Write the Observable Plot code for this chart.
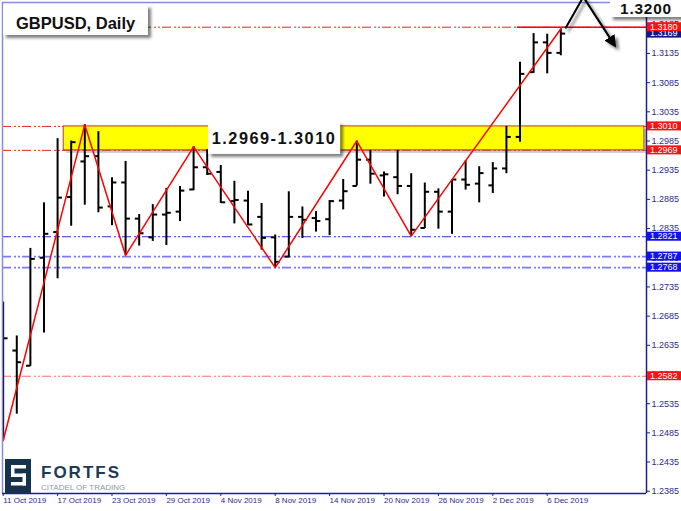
<!DOCTYPE html>
<html><head><meta charset="utf-8">
<script src="https://cdn.jsdelivr.net/npm/d3@7"></script>
<script src="https://cdn.jsdelivr.net/npm/@observablehq/plot@0.6"></script>
<style>
html,body{margin:0;padding:0;background:#fff;}
#chart{width:681px;height:511px;overflow:hidden;}
</style></head><body><div id="chart"></div>
<script>
// ---- data (GBPUSD daily bars, 11 Oct 2019 - 9 Dec 2019) ----
const barIndex = [0,1,2,3,4,5,6,7,8,9,10,11,12,13,14,15,16,17,18,19,20,21,22,23,24,25,26,27,28,29,30,31,32,33,34,35,36,37,38,39,40,41];
const openP  = [1.2490,1.2626,1.2600,1.2785,1.2829,1.2889,1.2950,1.2959,1.2873,1.2914,1.2852,1.2820,1.2859,1.2864,1.2902,1.2940,1.2932,1.2882,1.2883,1.2855,1.2820,1.2787,1.2855,1.2853,1.2851,1.2883,1.2908,1.2953,1.2926,1.2923,1.2908,1.2836,1.2898,1.2864,1.2919,1.2912,1.2909,1.2938,1.2992,1.3103,1.3154,1.3136];
const highP  = [1.2709,1.2651,1.2801,1.2879,1.2989,1.2985,1.3013,1.3001,1.2922,1.2950,1.2859,1.2876,1.2904,1.2907,1.2975,1.2970,1.2943,1.2916,1.2899,1.2878,1.2824,1.2898,1.2872,1.2864,1.2883,1.2919,1.2985,1.2969,1.2932,1.2969,1.2929,1.2913,1.2903,1.2919,1.2951,1.2941,1.2948,1.3010,1.3120,1.3169,1.3168,1.3177];
const lowP   = [1.2472,1.2517,1.2599,1.2656,1.2749,1.2839,1.2875,1.2862,1.2840,1.2789,1.2805,1.2813,1.2806,1.2847,1.2900,1.2926,1.2878,1.2843,1.2840,1.2798,1.2768,1.2785,1.2818,1.2829,1.2823,1.2867,1.2908,1.2911,1.2889,1.2893,1.2822,1.2835,1.2834,1.2825,1.2901,1.2879,1.2895,1.2929,1.2983,1.3101,1.3100,1.3131];
const closeP = [1.2647,1.2606,1.2783,1.2826,1.2888,1.2983,1.2959,1.2871,1.2914,1.2852,1.2827,1.2859,1.2862,1.2900,1.2940,1.2929,1.2880,1.2884,1.2842,1.2819,1.2778,1.2855,1.2850,1.2848,1.2882,1.2899,1.2953,1.2929,1.2928,1.2908,1.2833,1.2898,1.2864,1.2919,1.2910,1.2930,1.2938,1.2992,1.3100,1.3154,1.3136,1.3169];

const xTickIndex  = [0,4,8,12,16,20,24,28,32,36,40];
const xTickLabels = ["11 Oct 2019","17 Oct 2019","23 Oct 2019","29 Oct 2019","4 Nov 2019","8 Nov 2019","14 Nov 2019","20 Nov 2019","26 Nov 2019","2 Dec 2019","6 Dec 2019"];
const yTicks = [1.2385,1.2435,1.2485,1.2535,1.2585,1.2635,1.2685,1.2735,1.2785,1.2835,1.2885,1.2935,1.2985,1.3035,1.3085,1.3135,1.3185];

const zigzagIndex = [0,6,9,14,20,26,30,41];
const zigzagValue = [1.2472,1.3013,1.2789,1.2975,1.2768,1.2985,1.2822,1.3177];

const redLevels  = [1.3180,1.3010,1.2969];
const lightRedLevels = [1.2582];
const blueLevel  = [1.2821];
const lightBlueLevels = [1.2787,1.2768];
const bidPrice = 1.3169;
const zoneLow = 1.2969, zoneHigh = 1.3010, zoneStart = 4.45, zoneEnd = 47.15;
const resistanceStart = 37.8;
const targetLevel = 1.3200;
const titleText = "GBPUSD, Daily";
const zoneText = "1.2969-1.3010";
const targetText = "1.3200";

// ---- build ----
const bars = barIndex.map((i,k)=>({i, o:openP[k], h:highP[k], l:lowP[k], c:closeP[k]}));
const zz = zigzagIndex.map((i,k)=>({i, v:zigzagValue[k]}));
const zone = [{x1:zoneStart, x2:zoneEnd, y1:zoneLow, y2:zoneHigh}];
const X0 = -0.05, X1 = 47.3, Y0 = 1.23811, Y1 = 1.32223;
const dd = "9,3,2,2,2,2";
const tickLab = new Map(xTickIndex.map((d,k)=>[d,xTickLabels[k]]));
const navy = "#1c1ca0";

const chart = Plot.plot({
  width: 681, height: 511,
  marginLeft: 2, marginRight: 35, marginTop: 2, marginBottom: 18,
  x: {domain:[X0,X1], axis:null},
  y: {domain:[Y0,Y1], axis:null},
  style: {fontFamily:"'Liberation Sans', Arial, sans-serif", background:"#fff", color:"#2b2b8a", overflow:"visible"},
  marks: [
    Plot.ruleY(redLevels, {stroke:"#ff1a1a", strokeWidth:1, strokeDasharray:dd}),
    Plot.ruleY(lightRedLevels, {stroke:"#ff6a6a", strokeWidth:1, strokeDasharray:dd}),
    Plot.ruleY(blueLevel, {stroke:"#2a2aff", strokeWidth:1, strokeDasharray:dd}),
    Plot.ruleY(lightBlueLevels, {stroke:"#7a7aff", strokeWidth:1.6, strokeDasharray:dd}),
    Plot.rect(zone, {x1:"x1", x2:"x2", y1:"y1", y2:"y2", fill:"#888", fillOpacity:0.45, dx:3, dy:3}),
    Plot.rect(zone, {x1:"x1", x2:"x2", y1:"y1", y2:"y2", fill:"#ffff00", stroke:"#c03a2b", strokeWidth:1}),
    Plot.ruleY([1.3180], {x1:resistanceStart, x2:X1, stroke:"#ff0000", strokeWidth:1.5}),
    Plot.ruleX(bars, {x:"i", y1:"l", y2:"h", stroke:"#000", strokeWidth:2}),
    Plot.link(bars, {x1:d=>d.i-0.32, x2:"i", y1:"o", y2:"o", stroke:"#000", strokeWidth:2, clip:true}),
    Plot.link(bars, {x1:"i", x2:d=>d.i+0.32, y1:"c", y2:"c", stroke:"#000", strokeWidth:2}),
    Plot.line(zz, {x:"i", y:"v", stroke:"#ff0000", strokeWidth:1.5}),
    Plot.ruleX([X0], {stroke:"#8a8ae0", strokeWidth:1.5}),
    Plot.ruleY([Y1], {stroke:"#8a8ae0", strokeWidth:1.5}),
    Plot.ruleX([X1], {stroke:navy, strokeWidth:1.5}),
    Plot.ruleY([Y0], {stroke:navy, strokeWidth:1.5}),
    Plot.axisY({anchor:"right", ticks:yTicks, tickFormat:d=>d.toFixed(4), tickSize:3, tickPadding:2, fontSize:9, stroke:navy, label:null}),
    Plot.axisX({anchor:"bottom", ticks:xTickIndex, tickFormat:d=>tickLab.get(d), tickSize:3, tickPadding:1, fontSize:8, textAnchor:"start", stroke:navy, label:null})
  ]
});
document.getElementById("chart").appendChild(chart);

const sx = chart.scale("x"), sy = chart.scale("y");
const X = v=>sx.apply(v), Y = v=>sy.apply(v);
const svg = d3.select(chart);
const defs = svg.append("defs");
const f = defs.append("filter").attr("id","shadow").attr("x","-20%").attr("y","-30%").attr("width","150%").attr("height","180%");
f.append("feDropShadow").attr("dx",3).attr("dy",3).attr("stdDeviation",1.6).attr("flood-color","#000").attr("flood-opacity",0.5);
defs.append("marker").attr("id","ah").attr("viewBox","0 0 10 10").attr("refX",8).attr("refY",5)
  .attr("markerWidth",6).attr("markerHeight",6).attr("orient","auto")
  .append("path").attr("d","M0,0 L10,5 L0,10 Z").attr("fill","#000");

const ov = svg.append("g").attr("text-anchor","start");
const font = "'Liberation Sans', Arial, sans-serif";

// price labels on the axis
function priceTag(v, bg){
  const g = ov.append("g");
  g.append("rect").attr("x", X(X1)+1).attr("y", Y(v)-4.5).attr("width", 34).attr("height", 9).attr("fill", bg);
  g.append("text").attr("x", X(X1)+4).attr("y", Y(v)+3.2).attr("fill","#fff").attr("text-anchor","start")
    .attr("font-family",font).attr("font-size",9).text(v.toFixed(4));
}
blueLevel.concat(lightBlueLevels).forEach(v=>priceTag(v,"#1010f0"));
priceTag(bidPrice,"#14148c");
redLevels.concat(lightRedLevels).forEach(v=>priceTag(v,"#ff1010"));

// zone callout
const zcx = X(19.95), zcy = Y((zoneLow+zoneHigh)/2);
ov.append("rect").attr("x", zcx-66).attr("y", zcy-16).attr("width",132).attr("height",32).attr("fill","#fff").attr("filter","url(#shadow)");
ov.append("text").attr("x", zcx).attr("y", zcy+6).attr("text-anchor","middle").attr("font-family",font)
  .attr("font-weight","bold").attr("font-size",16.3).attr("letter-spacing",1.5).attr("fill","#111").text(zoneText);

// title callout
ov.append("rect").attr("x",3).attr("y",5).attr("width",145).attr("height",30).attr("fill","#fff").attr("filter","url(#shadow)");
ov.append("text").attr("x",16).attr("y",29).attr("text-anchor","start").attr("font-family",font).attr("font-weight","bold").attr("font-size",16.5).attr("fill","#111").text(titleText);

// target arrow
ov.append("path").attr("d",`M${X(41.37)},${Y(1.3177)} L${X(42.69)},${Y(Y1)-5} L${X(45.0)},${Y(1.3148)}`)
  .attr("fill","none").attr("stroke","#000").attr("stroke-width",2).attr("marker-end","url(#ah)").attr("filter","url(#shadow)");
ov.append("rect").attr("x",610).attr("y",-4).attr("width",75).attr("height",21).attr("fill","#fff").attr("filter","url(#shadow)");
ov.append("text").attr("x",646).attr("y",Y(targetLevel)-1).attr("text-anchor","middle").attr("font-family",font)
  .attr("font-weight","bold").attr("font-size",15.4).attr("letter-spacing",0.8).attr("fill","#111").text(targetText);

// logo
const lg = ov.append("g");
lg.append("rect").attr("x",5).attr("y",459).attr("width",26).attr("height",34).attr("fill","#17324d");
[[11,465,15,3.5],[11,465,3.5,12],[11,473.5,15,3.5],[22.5,473.5,3.5,12],[11,482,15,3.5]].forEach(r=>
  lg.append("rect").attr("x",r[0]).attr("y",r[1]).attr("width",r[2]).attr("height",r[3]).attr("fill","#fff"));
lg.append("text").attr("x",41).attr("y",478).attr("text-anchor","start").attr("font-family",font).attr("font-weight","bold").attr("font-size",17)
  .attr("letter-spacing",2).attr("fill","#1d3a57").text("FORTFS");
lg.append("text").attr("x",41).attr("y",490).attr("text-anchor","start").attr("font-family",font).attr("font-size",8).attr("fill","#8a99a8").text("CITADEL OF TRADING");
</script></body></html>
